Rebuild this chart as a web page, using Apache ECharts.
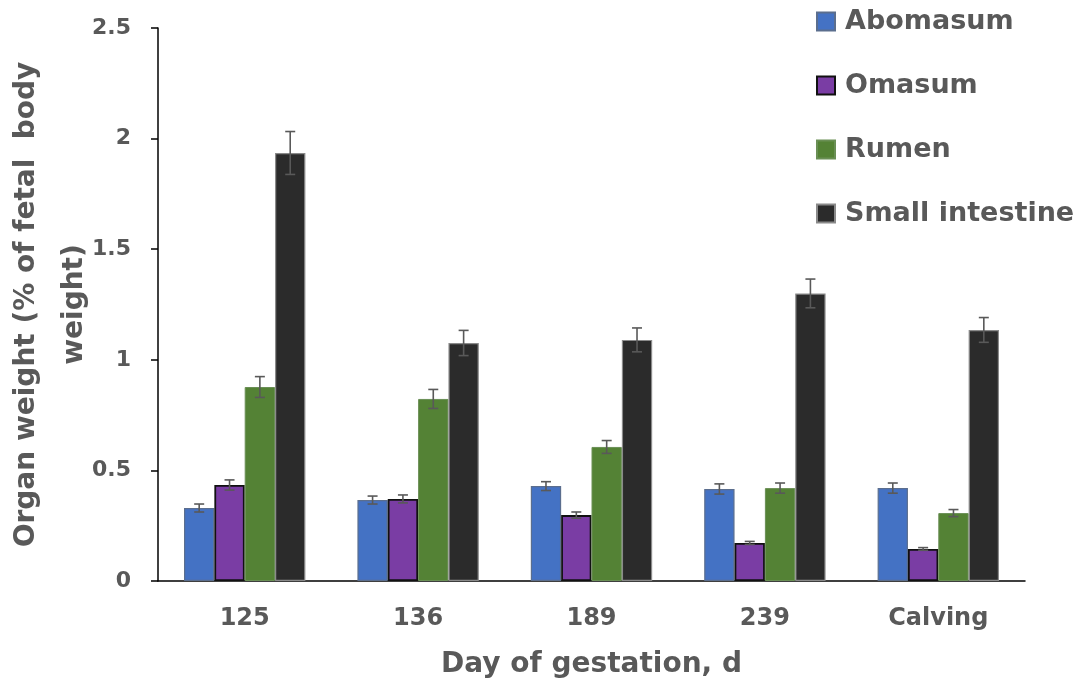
<!DOCTYPE html>
<html><head><meta charset="utf-8">
<script src="https://cdn.jsdelivr.net/npm/echarts@6/dist/echarts.min.js"></script>
<style>html,body{margin:0;padding:0;background:#fff}#c{width:1082px;height:681px}</style>
</head><body><div id="c"></div>
<script>
const categories = ['125', '136', '189', '239', 'Calving'];
const seriesNames = ['Abomasum', 'Omasum', 'Rumen', 'Small intestine'];
const abomasum = [0.33, 0.366, 0.429, 0.416, 0.42];
const omasum = [0.434, 0.371, 0.298, 0.172, 0.145];
const rumen = [0.877, 0.823, 0.606, 0.42, 0.307];
const smallIntestine = [1.935, 1.076, 1.09, 1.30, 1.135];
const abomasumErr = [0.018, 0.018, 0.02, 0.023, 0.023];
const omasumErr = [0.023, 0.018, 0.014, 0.007, 0.006];
const rumenErr = [0.047, 0.043, 0.029, 0.023, 0.016];
const smallIntestineErr = [0.097, 0.057, 0.054, 0.065, 0.056];
const yTicks = [0, 0.5, 1, 1.5, 2, 2.5];

const values = [abomasum, omasum, rumen, smallIntestine];
const errors = [abomasumErr, omasumErr, rumenErr, smallIntestineErr];
const colors = ['#4472C4', '#7A3DA4', '#548235', '#2B2B2B'];
const borders = ['#5B6E8E', '#111111', '#6A8F55', '#8A8A8A'];
const borderW = [1.2, 1.8, 1, 1.2];
const gap = 0.30;
const textColor = '#595959';
const fam = '"DejaVu Sans", "Liberation Sans", Arial, sans-serif';

const series = [];
values.forEach((vals, i) => {
  series.push({
    name: seriesNames[i], type: 'bar', data: vals,
    barGap: '0%', barCategoryGap: (gap * 100) + '%',
    itemStyle: { color: colors[i], borderColor: borders[i], borderWidth: borderW[i] },
    emphasis: { disabled: true }
  });
});
values.forEach((vals, i) => {
  series.push({
    name: 'err' + i, type: 'custom', z: 10,
    data: vals.map((v, k) => [k, v, errors[i][k]]),
    renderItem: function (params, api) {
      const k = api.value(0), v = api.value(1), e = api.value(2);
      const band = api.size([1, 0])[0];
      const bw = band * (1 - gap) / 4;
      const cx = api.coord([k, 0])[0] + (i - 1.5) * bw;
      const yt = api.coord([k, v + e])[1];
      const yb = api.coord([k, v - e])[1];
      const cap = 5;
      const st = { stroke: '#595959', lineWidth: 1.6 };
      return { type: 'group', children: [
        { type: 'line', shape: { x1: cx, y1: yt, x2: cx, y2: yb }, style: st },
        { type: 'line', shape: { x1: cx - cap, y1: yt, x2: cx + cap, y2: yt }, style: st },
        { type: 'line', shape: { x1: cx - cap, y1: yb, x2: cx + cap, y2: yb }, style: st }
      ]};
    }
  });
});

const chart = echarts.init(document.getElementById('c'));
chart.setOption({
  animation: false,
  backgroundColor: '#ffffff',
  grid: { left: 158, top: 28, right: 57, bottom: 100, containLabel: false, outerBoundsMode: 'none' },
  legend: {
    data: seriesNames, orient: 'vertical', left: 811, top: 3,
    itemWidth: 18, itemHeight: 18, itemGap: 37, icon: 'rect',
    textStyle: { color: textColor, fontFamily: fam, fontWeight: 'bold', fontSize: 27, padding: [0, 0, 0, 5] }
  },
  xAxis: {
    type: 'category', data: categories,
    name: 'Day of gestation, d', nameLocation: 'middle', nameGap: 70, nameMoveOverlap: false,
    nameTextStyle: { color: textColor, fontFamily: fam, fontWeight: 'bold', fontSize: 28 },
    axisLine: { lineStyle: { color: '#000', width: 1.5 } },
    axisTick: { show: false },
    axisLabel: { color: textColor, fontFamily: fam, fontWeight: 'bold', fontSize: 24, margin: 26 }
  },
  yAxis: {
    type: 'value', min: 0, max: 2.5, interval: 0.5,
    name: 'Organ weight (% of fetal  body\nweight)', nameLocation: 'middle', nameGap: 59, nameRotate: 90,
    nameMoveOverlap: false,
    nameTextStyle: { color: textColor, fontFamily: fam, fontWeight: 'bold', fontSize: 28, lineHeight: 48 },
    axisLine: { show: true, lineStyle: { color: '#000', width: 1.5 } },
    axisTick: { show: true, length: 7, lineStyle: { color: '#000', width: 1.5 } },
    splitLine: { show: false },
    axisLabel: { color: textColor, fontFamily: fam, fontWeight: 'bold', fontSize: 22, margin: 27,
      formatter: v => String(yTicks.find(t => Math.abs(t - v) < 1e-9) ?? v) }
  },
  series: series
});
</script></body></html>
